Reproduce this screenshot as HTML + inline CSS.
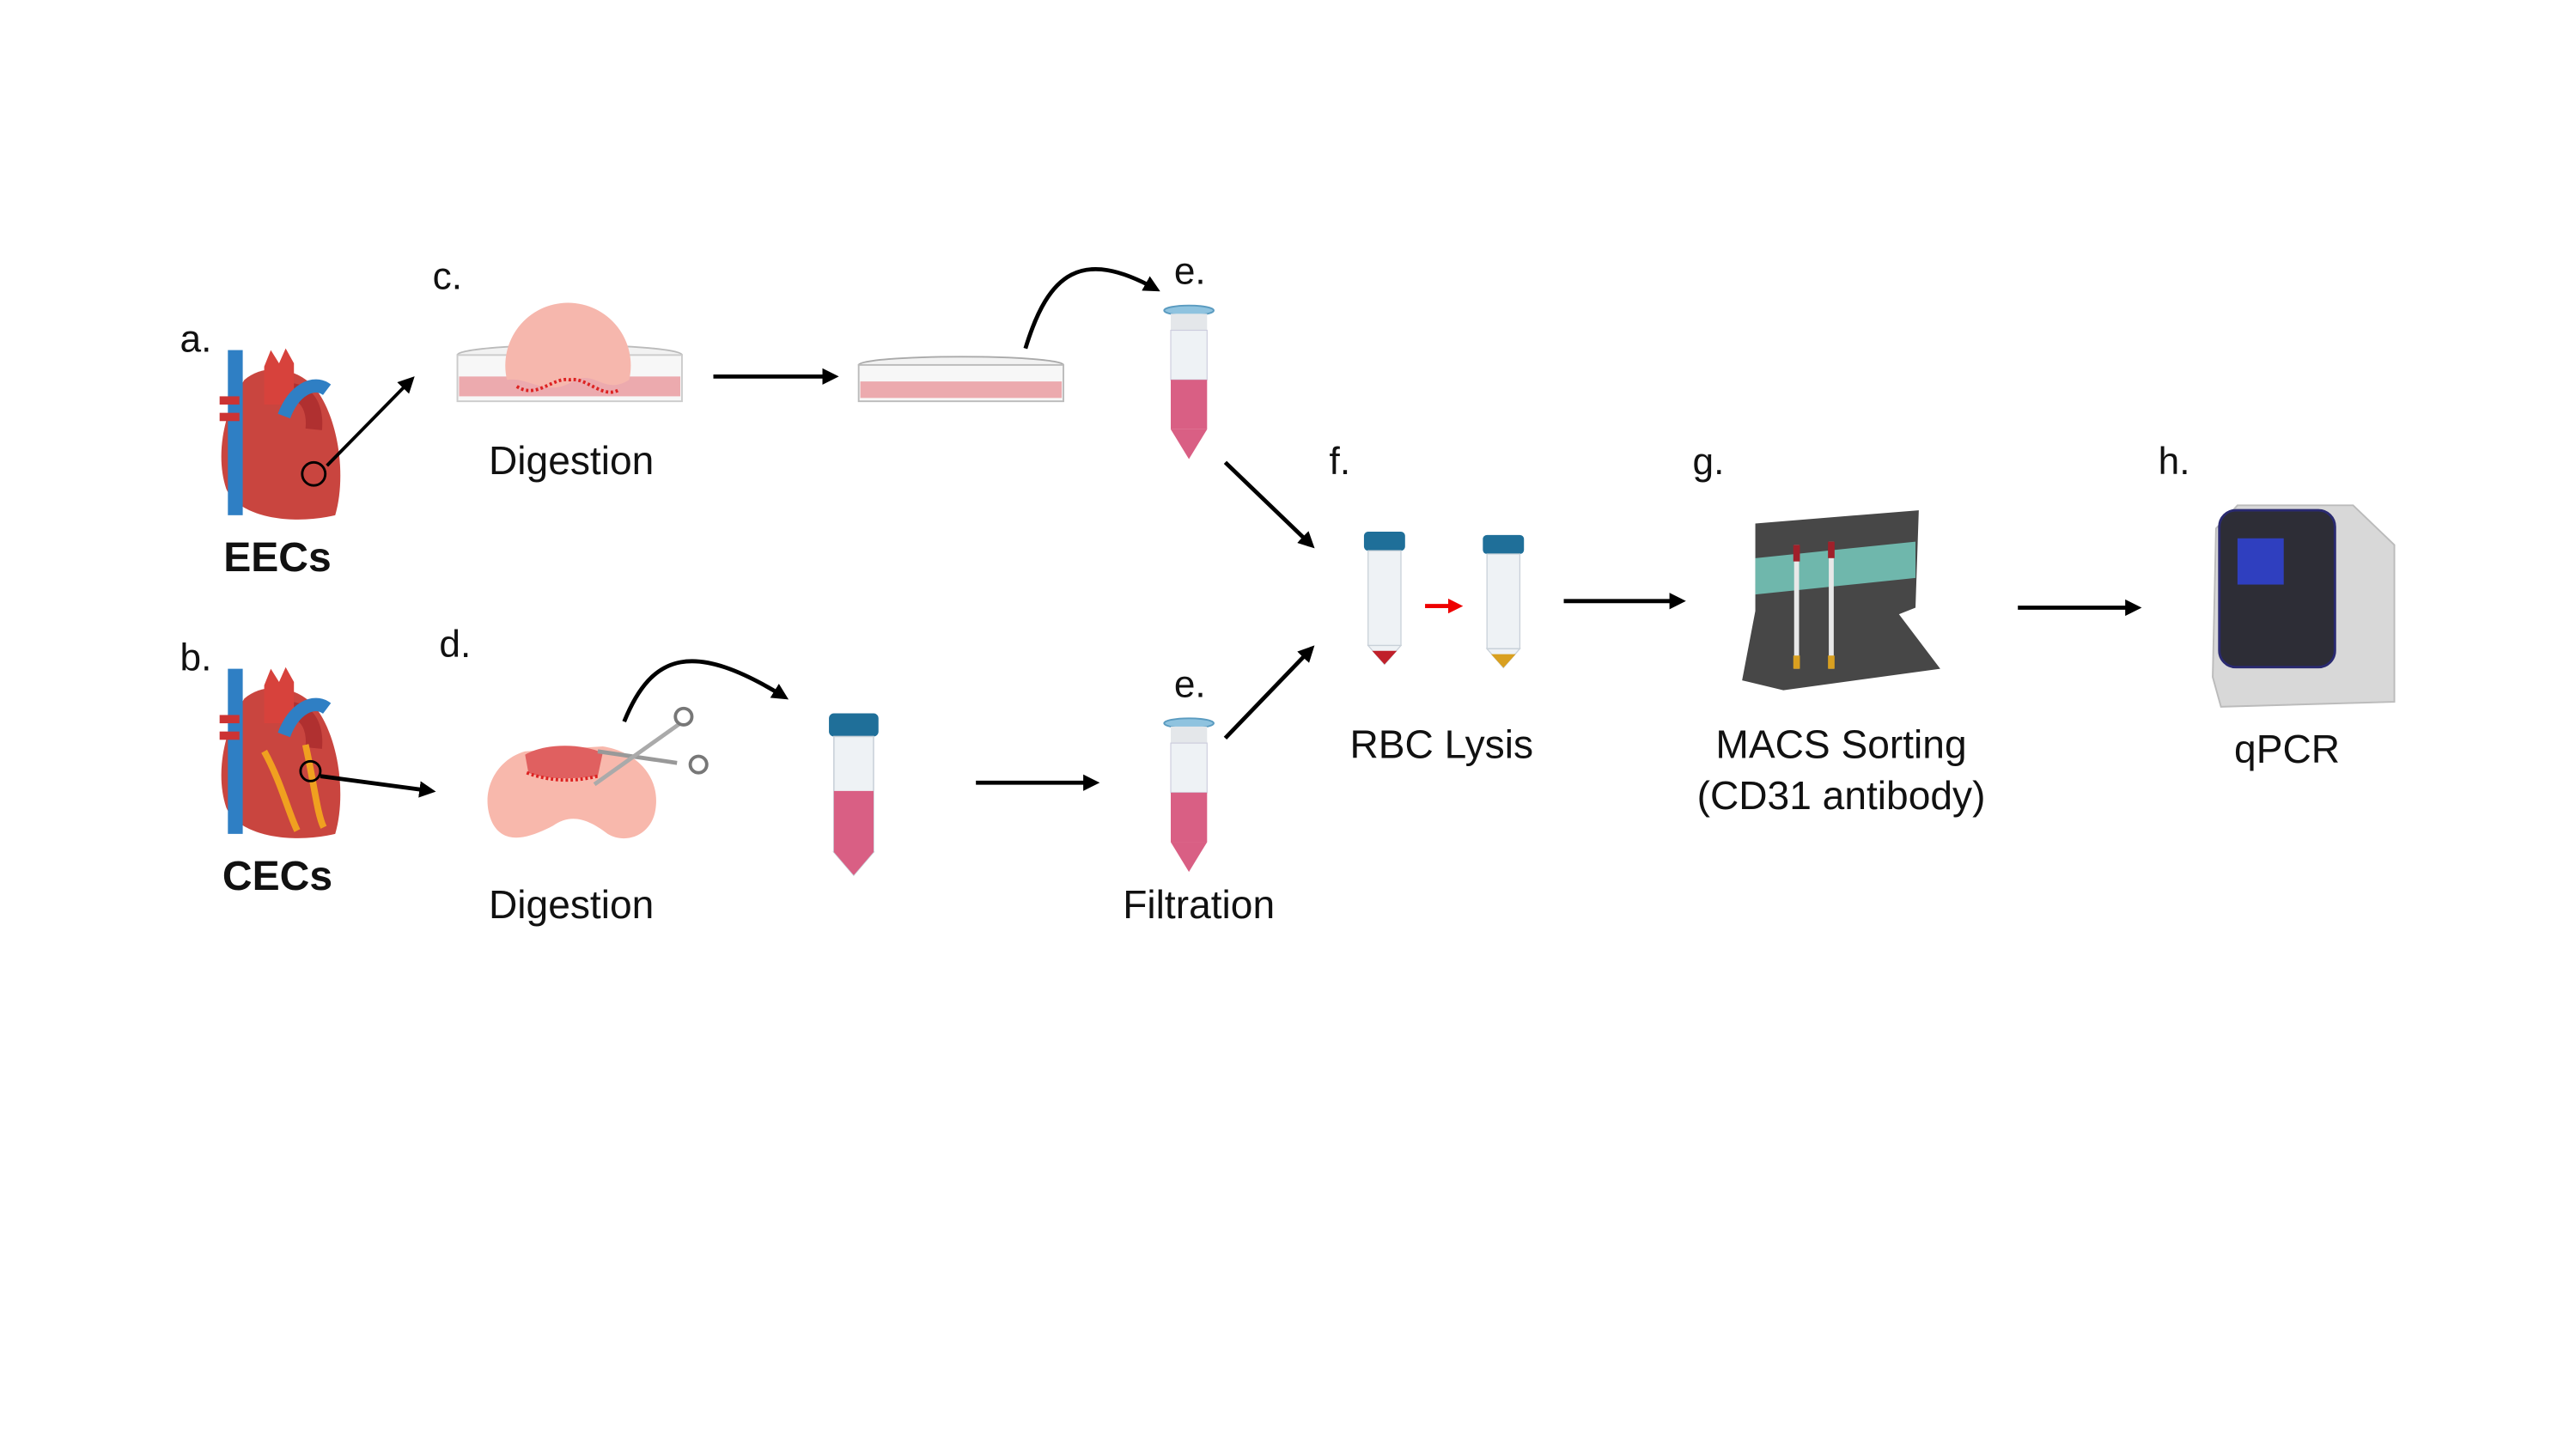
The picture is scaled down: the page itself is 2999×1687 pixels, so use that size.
<!DOCTYPE html>
<html><head><meta charset="utf-8"><style>
html,body{margin:0;padding:0;background:#fff}
svg{display:block}
text{font-family:"Liberation Sans",Arial,sans-serif;fill:#111}
</style></head><body>
<svg width="2999" height="1687" viewBox="0 0 1560 877.5" xmlns="http://www.w3.org/2000/svg">
<defs>
<marker id="ah" markerWidth="10" markerHeight="10" refX="7" refY="5" orient="auto" markerUnits="userSpaceOnUse"><path d="M0,0 L10,5 L0,10 z" fill="#000"/></marker>
<marker id="ahr" markerWidth="9" markerHeight="9" refX="6" refY="4.5" orient="auto" markerUnits="userSpaceOnUse"><path d="M0,0 L9,4.5 L0,9 z" fill="#e00"/></marker>
<g id="heart">
<path d="M148,230 C136,248 130,275 137,296 C145,314 178,318 203,312 C210,288 205,252 190,234 C178,222 160,220 148,230z" fill="#c9453f"/>
<path d="M165,240 C178,232 192,240 190,260" stroke="#b03030" stroke-width="10" fill="none"/>
<rect x="138" y="212" width="9" height="100" fill="#2f7fc4"/>
<path d="M160,222 l4,-10 l5,8 l4,-9 l5,9 v25 h-18z" fill="#d7423c"/>
<path d="M172,252 C178,236 190,230 198,236" stroke="#2f7fc4" stroke-width="8" fill="none"/>
<rect x="133" y="240" width="12" height="5" fill="#c33"/><rect x="133" y="250" width="12" height="5" fill="#c33"/>
</g>
<g id="tube50">
<rect x="0" y="0" width="30" height="14" rx="3" fill="#1f6f99"/>
<rect x="3" y="14" width="24" height="70" fill="#eef2f5" stroke="#c8d0d8" stroke-width="0.8"/>
<path d="M3,84 L15,98 L27,84z" fill="#eef2f5" stroke="#c8d0d8" stroke-width="0.8"/>
</g>
<g id="filtube">
<ellipse cx="15" cy="3" rx="15" ry="3" fill="#8fc3df" stroke="#5a9bc0"/>
<rect x="4" y="5" width="22" height="10" fill="#e4e7ea"/>
<rect x="4" y="15" width="22" height="30" fill="#eef2f5" stroke="#ccd" stroke-width="0.6"/>
<rect x="4" y="45" width="22" height="30" fill="#d95f84"/>
<path d="M4,75 L15,93 L26,75z" fill="#d95f84"/>
</g>
</defs>

<text x="109" y="213" font-size="23">a.</text>
<text x="109" y="406" font-size="23">b.</text>
<text x="262" y="175" font-size="23">c.</text>
<text x="266" y="398" font-size="23">d.</text>
<text x="711" y="172" font-size="23">e.</text>
<text x="711" y="422" font-size="23">e.</text>
<text x="805" y="287" font-size="23">f.</text>
<text x="1025" y="287" font-size="23">g.</text>
<text x="1307" y="287" font-size="23">h.</text>

<text x="168" y="346" font-size="25" font-weight="bold" text-anchor="middle">EECs</text>
<text x="168" y="539" font-size="25" font-weight="bold" text-anchor="middle">CECs</text>
<text x="346" y="287" font-size="24" text-anchor="middle">Digestion</text>
<text x="346" y="556" font-size="24" text-anchor="middle">Digestion</text>
<text x="726" y="556" font-size="24" text-anchor="middle">Filtration</text>
<text x="873" y="459" font-size="24" text-anchor="middle">RBC Lysis</text>
<text x="1115" y="459" font-size="24" text-anchor="middle">MACS Sorting</text>
<text x="1115" y="490" font-size="24" text-anchor="middle">(CD31 antibody)</text>
<text x="1385" y="462" font-size="24" text-anchor="middle">qPCR</text>

<use href="#heart"/>
<g transform="translate(0,193)"><use href="#heart"/>
<path d="M160,262 C170,280 175,300 180,310 M185,258 C190,280 192,300 196,308" stroke="#f0a020" stroke-width="4" fill="none"/></g>
<circle cx="190" cy="287" r="7" fill="none" stroke="#000" stroke-width="1.5"/>
<circle cx="188" cy="467" r="6" fill="none" stroke="#000" stroke-width="1.5"/>

<ellipse cx="345" cy="215" rx="68" ry="6" fill="#f2f2f2" stroke="#bbb"/>
<rect x="277" y="215" width="136" height="28" fill="#f7f7f7" stroke="#ccc"/>
<rect x="278" y="228" width="134" height="12" fill="#ecaaae"/>
<path d="M307,230 A38,38 0 1 1 381,230 C365,240 360,222 345,232 C330,240 320,228 307,230z" fill="#f6b7ad"/>
<path d="M313,234 C325,242 335,228 345,230 C355,228 365,242 375,236" stroke="#d22" stroke-width="2" stroke-dasharray="1.5 1.5" fill="none"/>
<line x1="432" y1="228" x2="505" y2="228" stroke="#000" stroke-width="2.5" marker-end="url(#ah)"/>
<ellipse cx="582" cy="221" rx="62" ry="5" fill="#f2f2f2" stroke="#aaa"/>
<rect x="520" y="221" width="124" height="22" fill="#f7f7f7" stroke="#bbb"/>
<rect x="521" y="231" width="122" height="10" fill="#ecaaae"/>
<path d="M621,211 C635,165 655,150 700,175" stroke="#000" stroke-width="2.5" fill="none" marker-end="url(#ah)"/>
<use href="#filtube" transform="translate(705,185)"/>

<line x1="198" y1="282" x2="249" y2="230" stroke="#000" stroke-width="2" marker-end="url(#ah)"/>
<line x1="194" y1="470" x2="261" y2="479" stroke="#000" stroke-width="2.5" marker-end="url(#ah)"/>

<path d="M318,455 C300,460 290,480 298,498 C305,512 320,508 335,500 C345,493 355,495 368,505 C380,512 395,505 397,490 C400,470 385,455 365,452z" fill="#f8b8ac"/>
<path d="M318,457 C330,450 352,450 365,456 L362,470 C345,472 330,472 320,468z" fill="#e06060"/>
<path d="M319,468 C335,474 350,473 362,470" stroke="#d22" stroke-width="2" stroke-dasharray="1.5 1.5" fill="none"/>
<line x1="362" y1="455" x2="410" y2="462" stroke="#999" stroke-width="2.5"/>
<line x1="360" y1="475" x2="412" y2="438" stroke="#aaa" stroke-width="2.5"/>
<circle cx="414" cy="434" r="5" fill="none" stroke="#777" stroke-width="2"/>
<circle cx="423" cy="463" r="5" fill="none" stroke="#777" stroke-width="2"/>
<path d="M378,437 C395,395 420,388 475,422" stroke="#000" stroke-width="2.5" fill="none" marker-end="url(#ah)"/>
<g transform="translate(502,432)"><use href="#tube50"/><rect x="3" y="47" width="24" height="37" fill="#d95f84"/><path d="M3,84 L15,98 L27,84z" fill="#d95f84"/></g>
<line x1="591" y1="474" x2="663" y2="474" stroke="#000" stroke-width="2.5" marker-end="url(#ah)"/>
<use href="#filtube" transform="translate(705,435)"/>

<line x1="742" y1="280" x2="794" y2="330" stroke="#000" stroke-width="2.5" marker-end="url(#ah)"/>
<line x1="742" y1="447" x2="794" y2="393" stroke="#000" stroke-width="2.5" marker-end="url(#ah)"/>

<g transform="translate(826,322) scale(0.83,0.82)"><use href="#tube50"/><path d="M6,88 L15,98 L24,88z" fill="#c0202a"/></g>
<g transform="translate(898,324) scale(0.83,0.82)"><use href="#tube50"/><path d="M6,88 L15,98 L24,88z" fill="#d9a020"/></g>
<line x1="863" y1="367" x2="883" y2="367" stroke="#e00" stroke-width="2.5" marker-end="url(#ahr)"/>
<line x1="947" y1="364" x2="1018" y2="364" stroke="#000" stroke-width="2.5" marker-end="url(#ah)"/>

<path d="M1063,317 L1162,309 L1160,368 L1150,372 L1175,405 L1080,418 L1055,412 L1063,370z" fill="#474747"/>
<path d="M1063,338 L1160,328 L1160,350 L1063,360z" fill="#6fb7ac"/>
<line x1="1088" y1="330" x2="1088" y2="405" stroke="#e8e8e8" stroke-width="3"/>
<line x1="1109" y1="328" x2="1109" y2="405" stroke="#e8e8e8" stroke-width="3"/>
<rect x="1086" y="330" width="4" height="10" fill="#a0202a"/><rect x="1107" y="328" width="4" height="10" fill="#a0202a"/>
<rect x="1086" y="397" width="4" height="8" fill="#d9a020"/><rect x="1107" y="397" width="4" height="8" fill="#d9a020"/>
<line x1="1222" y1="368" x2="1294" y2="368" stroke="#000" stroke-width="2.5" marker-end="url(#ah)"/>

<path d="M1355,306 L1425,306 L1450,330 L1450,425 L1345,428 L1340,410 L1342,320z" fill="#d8d8d8" stroke="#bbb"/>
<rect x="1344" y="309" width="70" height="95" rx="10" fill="#2d2d36" stroke="#2a2a70" stroke-width="1.5"/>
<rect x="1355" y="326" width="28" height="28" fill="#2f3fbf"/>
</svg>
</body></html>
